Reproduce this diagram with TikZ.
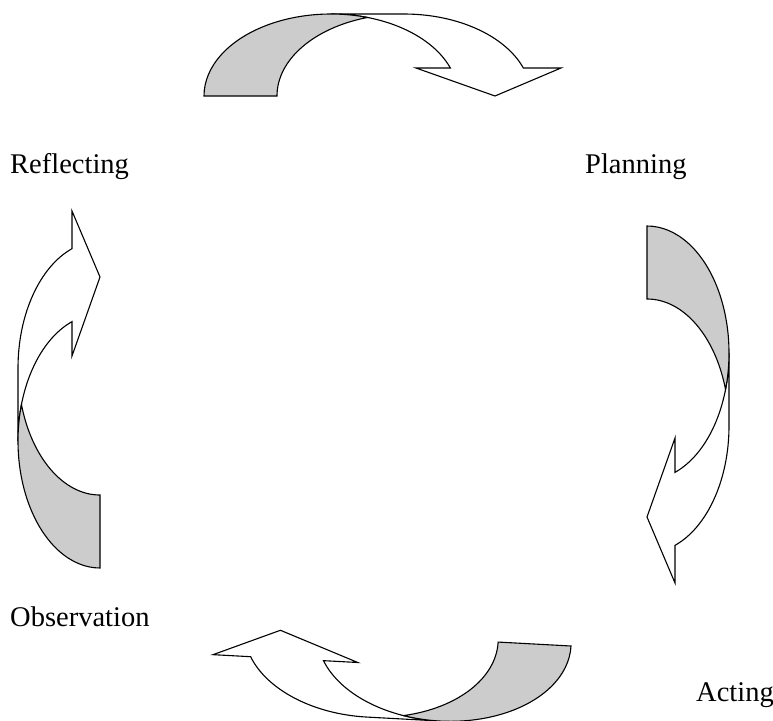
\documentclass[tikz,border=0pt]{standalone}
\usepackage{fontspec}
\setmainfont{Liberation Serif}
\definecolor{backface}{RGB}{204,204,204}
\tikzset{
  outline/.style={draw=black, line width=1.1pt, line join=miter},
  lbl/.style={inner sep=0pt, anchor=base west, font=\fontsize{28.5}{33}\selectfont}
}
% one curved arrow in local coordinates: tail line on v=0, band bulging to v>0
\newcommand{\cycArrow}[2]{%
  \begin{scope}[shift={#1}, rotate=#2]
    \path[outline, fill=white]
      (127,82) arc[start angle=90, end angle=19.97, x radius=127, y radius=82]
      -- (212,28) -- (291,0) -- (357,28) -- (319.35,28)
      arc[start angle=19.97, end angle=90, x radius=127, y radius=82] -- cycle;
    \path[outline, fill=backface]
      (0,0) arc[start angle=180, end angle=73.3, x radius=127, y radius=82]
      arc[start angle=106.7, end angle=180, x radius=127, y radius=82] -- cycle;
  \end{scope}}
\begin{document}
\begin{tikzpicture}[x=1pt, y=1pt]
  \useasboundingbox (0,0) rectangle (773,-720);
  % top arrow (Reflecting -> Planning)
  \cycArrow{(204,-96)}{0}
  % right arrow (Planning -> Acting)
  \cycArrow{(647,-226)}{-90}
  % bottom arrow (Acting -> Observation)
  \cycArrow{(571,-646)}{176.9}
  % left arrow (Observation -> Reflecting)
  \cycArrow{(100,-568)}{90}
  \node[lbl] (reflecting) at (10,-173) {Reflecting};
  \node[lbl] (planning) at (585,-173) {Planning};
  \node[lbl] (observation) at (10,-626) {Observation};
  \node[lbl] (acting) at (696,-701) {Acting};
\end{tikzpicture}
\end{document}
